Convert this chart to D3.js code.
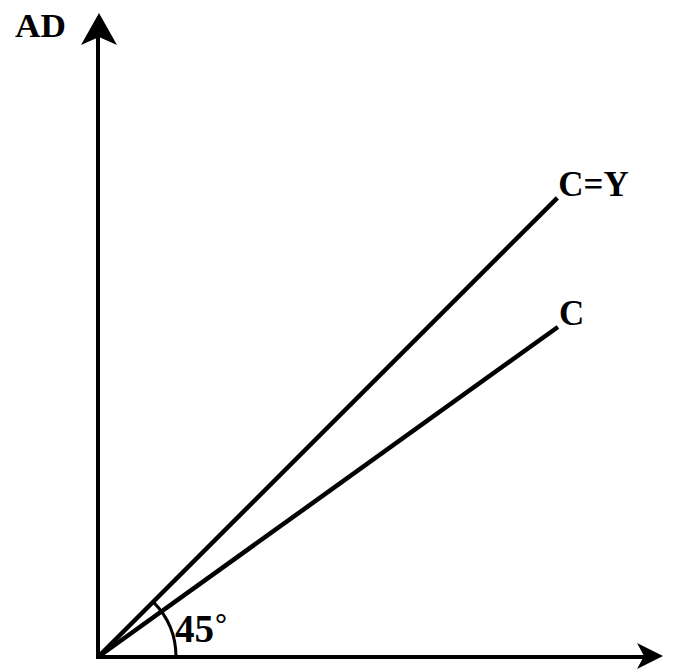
<!DOCTYPE html>
<html><head><meta charset="utf-8">
<script src="https://cdn.jsdelivr.net/npm/d3@7"></script>
<style>html,body{margin:0;padding:0;background:#fff;}svg{display:block;}</style>
</head><body>
<svg id="chart" width="678" height="672"></svg>
<script>
// Data (abstract units)
const xDomainMax = 98.4;     // horizontal axis extent (income Y)
const yDomainMax = 112.2;    // vertical axis extent (AD)
const lineNames = ["C=Y", "C"];
const lineEndX = [80, 80.1];
const lineEndY = [80, 57.5];
const axisLabels = ["AD"];
const angleLabel = "45";

const svg = d3.select("#chart");
const x = d3.scaleLinear().domain([0, xDomainMax]).range([98, 663]);
const y = d3.scaleLinear().domain([0, yDomainMax]).range([657, 13]);
const font = "'Liberation Serif','Times New Roman',serif";

// axes
svg.append("line").attr("x1", x(0)).attr("y1", y(0) + 2).attr("x2", x(0)).attr("y2", y(yDomainMax) + 20)
  .attr("stroke", "#000").attr("stroke-width", 4);
svg.append("line").attr("x1", x(0) - 2).attr("y1", y(0)).attr("x2", x(xDomainMax) - 15).attr("y2", y(0))
  .attr("stroke", "#000").attr("stroke-width", 4);
// arrowheads
svg.append("path")
  .attr("transform", `translate(${x(0) + 1},${y(yDomainMax)})`)
  .attr("d", "M0,0 L-18,32 L0,24 L18,32 Z").attr("fill", "#000");
svg.append("path")
  .attr("transform", `translate(${x(xDomainMax)},${y(0) - 1})`)
  .attr("d", "M0,0 L-26,-13 L-19,0 L-26,13 Z").attr("fill", "#000");

// lines
const lineGen = d3.line().x(d => x(d[0])).y(d => y(d[1]));
lineNames.forEach((name, i) => {
  svg.append("path").datum([[0, 0], [lineEndX[i], lineEndY[i]]])
    .attr("d", lineGen).attr("fill", "none").attr("stroke", "#000").attr("stroke-width", 4.5);
  svg.append("text").attr("x", x(lineEndX[i]) + 1).attr("y", y(lineEndY[i]) - 2)
    .attr("font-family", font).attr("font-weight", "bold").attr("font-size", 35)
    .text(name);
});

// axis label
svg.append("text").attr("x", 15).attr("y", 37)
  .attr("font-family", font).attr("font-weight", "bold").attr("font-size", 33)
  .attr("textLength", 51).attr("lengthAdjust", "spacingAndGlyphs")
  .text(axisLabels[0]);

// angle arc
const arc = d3.arc().innerRadius(78).outerRadius(78)
  .startAngle(Math.PI / 4).endAngle(Math.PI / 2);
svg.append("path").attr("transform", `translate(${x(0)},${y(0)})`)
  .attr("d", arc()).attr("fill", "none").attr("stroke", "#000").attr("stroke-width", 3);
svg.append("text").attr("x", 175).attr("y", 642)
  .attr("font-family", font).attr("font-weight", "bold").attr("font-size", 39)
  .text(angleLabel);
svg.append("text").attr("x", 215).attr("y", 634)
  .attr("font-family", font).attr("font-weight", "bold").attr("font-size", 30)
  .text("°");
</script>
</body></html>
